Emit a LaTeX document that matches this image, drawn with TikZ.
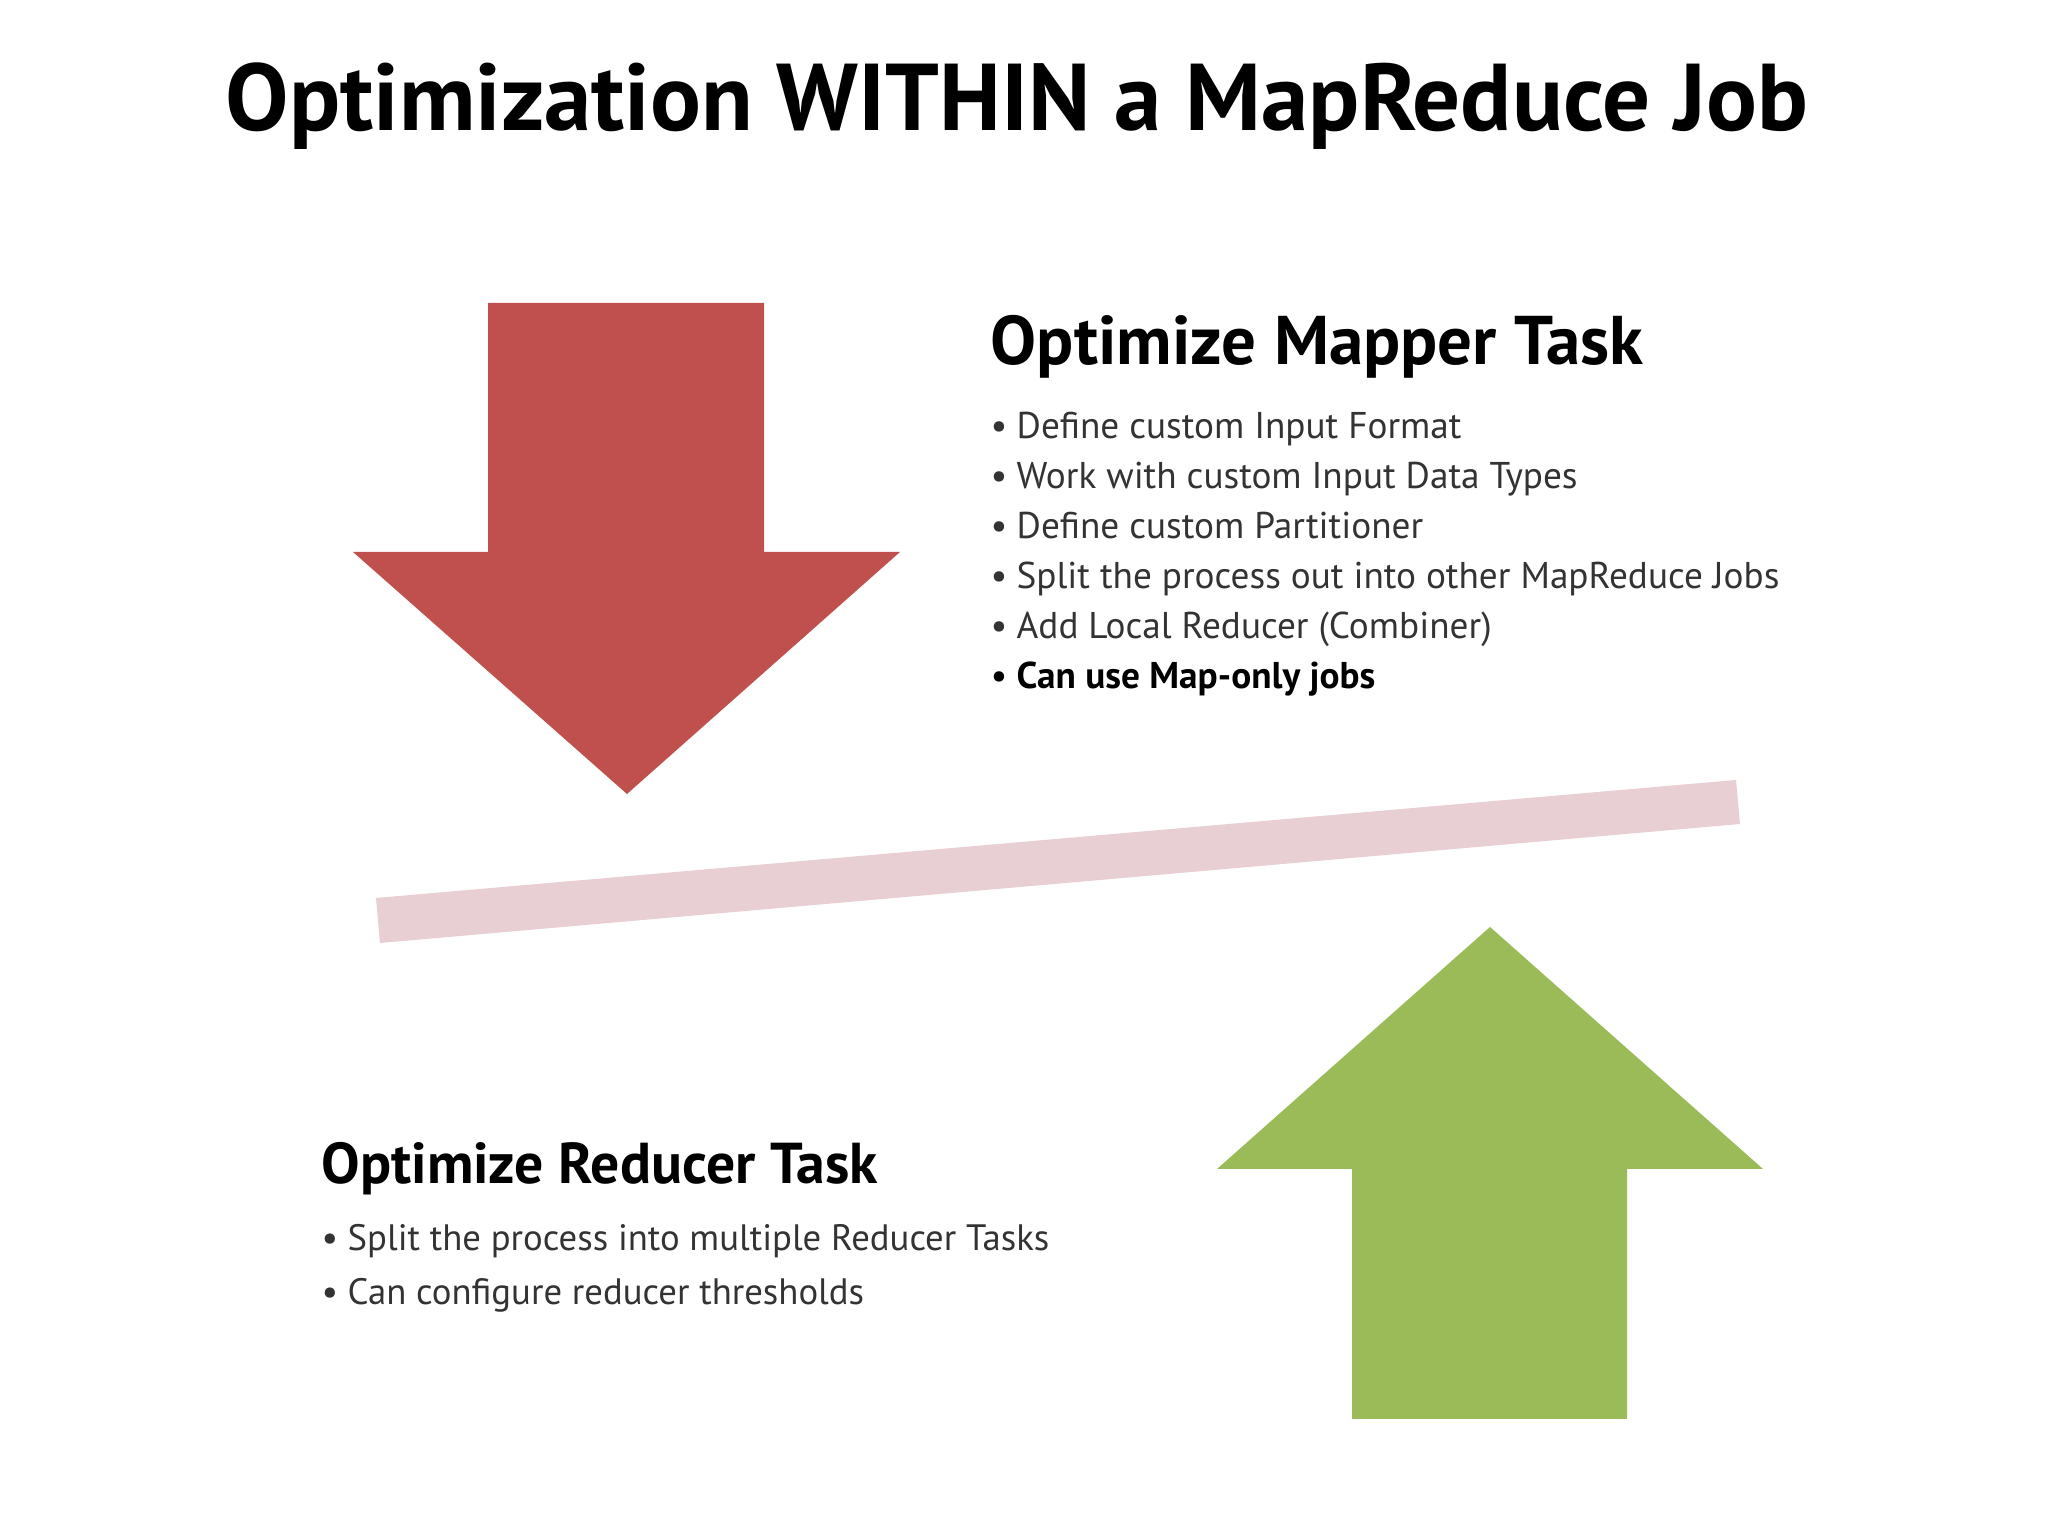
\documentclass[tikz,border=0pt]{standalone}
\usepackage{fontspec}
\setmainfont{PT Sans}
\usepackage{xcolor}
\usepackage{tikz}

\definecolor{mapred}{HTML}{C0504D}
\definecolor{redgreen}{HTML}{9BBB59}
\definecolor{barpink}{HTML}{E8CFD3}

\tikzset{
  txt/.style={inner sep=0pt, anchor=base west},
  item/.style={txt, font=\fontsize{10.6}{12}\selectfont, text=black!80},
}

\begin{document}
\begin{tikzpicture}
\useasboundingbox[fill=white] (0,0) rectangle (20.48,15.36);

% title
\node[inner sep=0pt, anchor=base, font=\bfseries\fontsize{27}{31}\selectfont] (title) at (10.17,14.05) {Optimization WITHIN a MapReduce Job};

% arrows and the bar
\fill[mapred] (4.88,12.33) -- (7.64,12.33) -- (7.64,9.84) -- (9.00,9.84) -- (6.27,7.42) -- (3.53,9.84) -- (4.88,9.84) -- cycle;
\fill[barpink] (3.76,6.38) -- (17.36,7.56) -- (17.40,7.12) -- (3.80,5.93) -- cycle;
\fill[redgreen] (14.90,6.09) -- (17.63,3.67) -- (16.27,3.67) -- (16.27,1.17) -- (13.52,1.17) -- (13.52,3.67) -- (12.17,3.67) -- cycle;

% mapper
\node[txt, font=\bfseries\fontsize{19.6}{22}\selectfont] (maphead) at (9.90,11.71) {Optimize Mapper Task};
\foreach \t [count=\i] in {Define custom Input Format, Work with custom Input Data Types, Define custom Partitioner, Split the process out into other MapReduce Jobs, Add Local Reducer (Combiner)}{
\node[item] (map\i) at (9.90,{10.97-(\i-1)*0.5}) {\makebox[0.26cm][l]{\textbullet}\t};
}
\node[item, font=\bfseries\fontsize{10.6}{12}\selectfont, text=black] (map6) at (9.90,8.47) {\makebox[0.26cm][l]{\mdseries\textbullet}Can use Map-only jobs};

% reducer
\node[txt, font=\bfseries\fontsize{16.4}{19}\selectfont] (redhead) at (3.21,3.52) {Optimize Reducer Task};
\node[item, font=\fontsize{10.45}{12}\selectfont] (red1) at (3.21,2.85) {\makebox[0.26cm][l]{\textbullet}Split the process into multiple Reducer Tasks};
\node[item, font=\fontsize{10.45}{12}\selectfont] (red2) at (3.21,2.31) {\makebox[0.26cm][l]{\textbullet}Can configure reducer thresholds};
\end{tikzpicture}
\end{document}
